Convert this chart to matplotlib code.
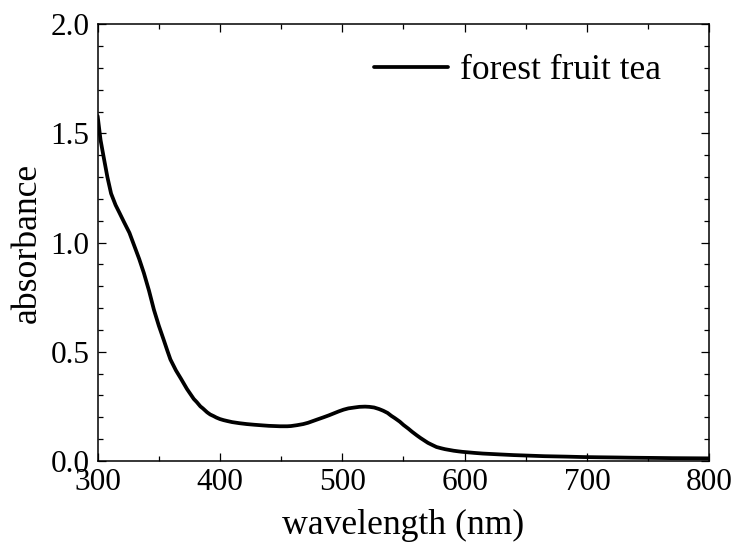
import matplotlib.pyplot as plt
from matplotlib.ticker import MultipleLocator, FormatStrFormatter

plt.rcParams['font.family'] = ['Liberation Serif', 'DejaVu Serif']

# absorbance spectrum, read point by point
wavelength = [300, 302.4, 305, 308, 311, 314.7, 318, 321.5, 326, 330, 334,
              337.8, 342, 346, 350, 354, 357, 359.5, 364, 368, 373, 378.6,
              381, 384, 386, 389.5, 392, 395, 397, 400, 403, 406, 410, 416,
              422, 428, 435, 440, 449, 455, 458, 463, 468, 472, 476, 480,
              484.6, 489, 493, 497, 501, 505, 510, 514, 518.6, 522, 526, 530,
              533.5, 537, 540, 543, 547, 550, 554, 557, 561, 564, 567, 570,
              574, 577, 581, 584, 588, 591, 595, 598, 602, 608, 615, 622, 629,
              640, 650, 665, 683, 697, 710, 725, 737, 755, 770, 785, 800]
absorbance = [1.58, 1.47, 1.39, 1.30, 1.225, 1.172, 1.135, 1.095, 1.045, 0.985,
              0.925, 0.861, 0.78, 0.693, 0.62, 0.555, 0.505, 0.465, 0.415,
              0.378, 0.33, 0.284, 0.27, 0.25, 0.241, 0.223, 0.213, 0.205,
              0.199, 0.192, 0.187, 0.183, 0.178, 0.173, 0.169, 0.166, 0.163,
              0.161, 0.159, 0.159, 0.160, 0.164, 0.169, 0.175, 0.183, 0.191,
              0.2, 0.209, 0.218, 0.227, 0.235, 0.241, 0.245, 0.248, 0.249,
              0.248, 0.245, 0.238, 0.23, 0.22, 0.207, 0.196, 0.18, 0.165,
              0.148, 0.134, 0.117, 0.105, 0.094, 0.083, 0.072, 0.064, 0.058,
              0.054, 0.05, 0.047, 0.044, 0.042, 0.04, 0.037, 0.034, 0.032,
              0.03, 0.027, 0.025, 0.022, 0.02, 0.018, 0.017, 0.016, 0.015,
              0.014, 0.013, 0.0125, 0.012]

fig = plt.figure(figsize=(7.34, 5.44), dpi=100)
ax = fig.add_axes([0.133, 0.1526, 0.8334, 0.8027])

ax.plot(wavelength, absorbance, color='black', linewidth=2.7,
        solid_joinstyle='round', solid_capstyle='round',
        label='forest fruit tea')

ax.set_xlim(300, 800)
ax.set_ylim(0, 2.0)
ax.xaxis.set_major_locator(MultipleLocator(100))
ax.xaxis.set_minor_locator(MultipleLocator(50))
ax.yaxis.set_major_locator(MultipleLocator(0.5))
ax.yaxis.set_minor_locator(MultipleLocator(0.1))
ax.yaxis.set_major_formatter(FormatStrFormatter('%.1f'))

ax.tick_params(which='both', direction='in', top=True, right=True,
               labelsize=22.5, width=0.9)
ax.tick_params(which='major', length=6)
ax.tick_params(which='minor', length=3.5)
ax.tick_params(axis='x', pad=5)
ax.tick_params(axis='y', pad=6)
for s in ax.spines.values():
    s.set_linewidth(1.1)

ax.set_xlabel('wavelength (nm)', fontsize=25.7, labelpad=9)
ax.set_ylabel('absorbance', fontsize=25.7, labelpad=5)

ax.legend(loc='center', bbox_to_anchor=(0.705, 0.870),
          bbox_transform=fig.transFigure, frameon=False, fontsize=25.5,
          handlelength=2.1, handletextpad=0.35)

fig.savefig('out.png', dpi=100)
